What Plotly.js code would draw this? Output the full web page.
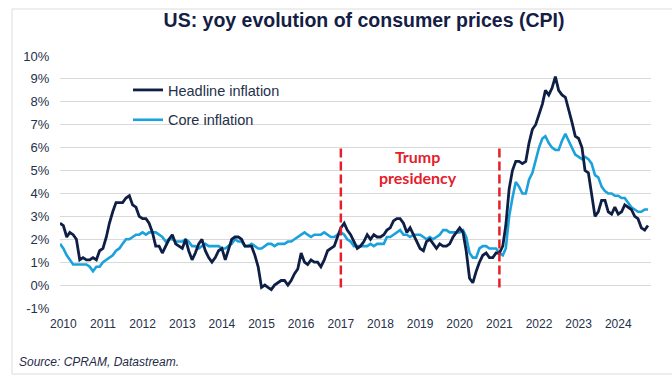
<!DOCTYPE html>
<html>
<head>
<meta charset="utf-8">
<script src="https://cdn.plot.ly/plotly-3.0.1.min.js"></script>
<style>
  html, body { margin: 0; padding: 0; background: #ffffff; }
  #chart { width: 672px; height: 385px; }
</style>
</head>
<body>
<div id="chart"></div>
<script>
// ---- Data (monthly, Dec 2009 .. Oct 2024), yoy % ----
const firstMonth = { year: 2009, month: 12 };

const headline = [
  2.7,
  2.6, 2.1, 2.3, 2.2, 2.0, 1.1, 1.2, 1.1, 1.1, 1.2, 1.1, 1.5,
  1.6, 2.1, 2.7, 3.2, 3.6, 3.6, 3.6, 3.8, 3.9, 3.5, 3.4, 3.0,
  2.9, 2.9, 2.7, 2.3, 1.7, 1.7, 1.4, 1.7, 2.0, 2.2, 1.8, 1.7,
  1.6, 2.0, 1.5, 1.1, 1.4, 1.8, 2.0, 1.5, 1.2, 1.0, 1.2, 1.5,
  1.6, 1.1, 1.5, 2.0, 2.1, 2.1, 2.0, 1.7, 1.7, 1.7, 1.3, 0.8,
  -0.1, 0.0, -0.1, -0.2, 0.0, 0.1, 0.2, 0.2, 0.0, 0.2, 0.5, 0.7,
  1.4, 1.0, 0.9, 1.1, 1.0, 1.0, 0.8, 1.1, 1.5, 1.6, 1.7, 2.1,
  2.5, 2.7, 2.4, 2.2, 1.9, 1.6, 1.7, 1.9, 2.2, 2.0, 2.2, 2.1,
  2.1, 2.2, 2.4, 2.5, 2.8, 2.9, 2.9, 2.7, 2.3, 2.5, 2.2, 1.9,
  1.6, 1.5, 1.9, 2.0, 1.8, 1.6, 1.8, 1.7, 1.7, 1.8, 2.1, 2.3,
  2.5, 2.3, 1.5, 0.3, 0.1, 0.6, 1.0, 1.3, 1.4, 1.2, 1.2, 1.4,
  1.4, 1.7, 2.6, 4.2, 5.0, 5.4, 5.4, 5.3, 5.4, 6.2, 6.8, 7.0,
  7.5, 7.9, 8.5, 8.3, 8.6, 9.1, 8.5, 8.3, 8.2, 7.7, 7.1, 6.5,
  6.4, 6.0, 5.0, 4.9, 4.0, 3.0, 3.2, 3.7, 3.7, 3.2, 3.1, 3.4,
  3.1, 3.2, 3.5, 3.4, 3.3, 3.0, 2.9, 2.5, 2.4, 2.6
];

const core = [
  1.8,
  1.6, 1.3, 1.1, 0.9, 0.9, 0.9, 0.9, 0.9, 0.8, 0.6, 0.8, 0.8,
  1.0, 1.1, 1.2, 1.3, 1.5, 1.6, 1.8, 2.0, 2.0, 2.1, 2.2, 2.2,
  2.3, 2.2, 2.3, 2.3, 2.3, 2.2, 2.1, 1.9, 2.0, 2.0, 1.9, 1.9,
  1.9, 2.0, 1.9, 1.7, 1.7, 1.6, 1.7, 1.8, 1.7, 1.7, 1.7, 1.7,
  1.6, 1.6, 1.7, 1.8, 2.0, 1.9, 1.9, 1.7, 1.7, 1.8, 1.7, 1.6,
  1.6, 1.7, 1.8, 1.8, 1.7, 1.8, 1.8, 1.8, 1.9, 1.9, 2.0, 2.1,
  2.2, 2.3, 2.2, 2.1, 2.2, 2.2, 2.2, 2.3, 2.2, 2.1, 2.1, 2.2,
  2.3, 2.2, 2.0, 1.9, 1.7, 1.7, 1.7, 1.7, 1.7, 1.8, 1.7, 1.8,
  1.8, 1.8, 2.1, 2.1, 2.2, 2.3, 2.4, 2.2, 2.2, 2.1, 2.2, 2.2,
  2.2, 2.1, 2.0, 2.1, 2.0, 2.1, 2.2, 2.4, 2.4, 2.3, 2.3, 2.3,
  2.3, 2.4, 2.1, 1.4, 1.2, 1.2, 1.6, 1.7, 1.7, 1.6, 1.6, 1.6,
  1.4, 1.3, 1.6, 3.0, 3.8, 4.5, 4.3, 4.0, 4.0, 4.6, 4.9, 5.5,
  6.0, 6.4, 6.5, 6.2, 6.0, 5.9, 5.9, 6.3, 6.6, 6.3, 6.0, 5.7,
  5.6, 5.5, 5.6, 5.5, 5.3, 4.8, 4.7, 4.3, 4.1, 4.0, 4.0, 3.9,
  3.9, 3.8, 3.8, 3.6, 3.4, 3.3, 3.2, 3.2, 3.3, 3.3
];

const seriesNames = ['Headline inflation', 'Core inflation'];
const yTickVals = [-1, 0, 1, 2, 3, 4, 5, 6, 7, 8, 9, 10];
const yTickText = ['-1%', '0%', '1%', '2%', '3%', '4%', '5%', '6%', '7%', '8%', '9%', '10%'];
const presidencyStart = '2017-01-01';
const presidencyEnd = '2021-01-01';
const presidencyLabel = 'Trump<br>presidency';
const chartTitle = 'US: yoy evolution of consumer prices (CPI)';
const sourceText = 'Source: CPRAM, Datastream.';

// ---- month dates ----
const dates = headline.map((_, i) => {
  const m0 = firstMonth.month - 1 + i;
  const y = firstMonth.year + Math.floor(m0 / 12);
  const m = (m0 % 12) + 1;
  return y + '-' + String(m).padStart(2, '0') + '-01';
});

const FONT = 'Arial, "Liberation Sans", sans-serif';
const NAVY = '#0e1e45';
const LIGHT = '#1ba1dc';
const TXT = '#25304a';

// pixel -> paper helpers (plot area: x 60..651, y 56..308)
const PL = 60, PR = 651, PT = 56, PB = 308;
const px = v => (v - PL) / (PR - PL);
const py = v => (PB - v) / (PB - PT);

const traces = [
  { x: dates, y: headline, type: 'scatter', mode: 'lines', name: seriesNames[0],
    legendgroup: 'a', legendrank: 1, line: { color: NAVY, width: 2.8 }, hoverinfo: 'x+y' },
  { x: dates, y: core, type: 'scatter', mode: 'lines', name: seriesNames[1],
    legendgroup: 'b', legendrank: 2, line: { color: LIGHT, width: 2.6 }, hoverinfo: 'x+y' }
];
// draw headline on top
const data = [traces[1], traces[0]];

const layout = {
  width: 672, height: 385,
  margin: { l: PL, r: 672 - PR, t: PT, b: 385 - PB, pad: 0 },
  paper_bgcolor: '#ffffff', plot_bgcolor: '#ffffff',
  font: { family: FONT, size: 12, color: TXT },
  title: {
    text: '<b>' + chartTitle + '</b>',
    font: { family: FONT, size: 19.5, color: '#132044' },
    x: 364 / 672, xref: 'container', xanchor: 'center',
    y: 1 - 20 / 385, yref: 'container', yanchor: 'middle'
  },
  xaxis: {
    type: 'date',
    range: ['2009-12-01', '2024-10-29'],
    tick0: '2010-01-01', dtick: 'M12', tickformat: '%Y',
    showgrid: false, zeroline: false, showline: false,
    ticks: 'outside', ticklen: 5, tickcolor: 'rgba(0,0,0,0)',
    tickfont: { family: FONT, size: 12, color: TXT },
    fixedrange: true
  },
  yaxis: {
    range: [-1, 10],
    tickvals: yTickVals, ticktext: yTickText,
    showgrid: true, gridcolor: '#d9d9d9', gridwidth: 1,
    zeroline: false, showline: false,
    ticks: 'outside', ticklen: 7, tickcolor: 'rgba(0,0,0,0)',
    tickfont: { family: FONT, size: 13, color: TXT },
    fixedrange: true
  },
  showlegend: true,
  legend: {
    x: px(128), xanchor: 'left',
    y: py(74), yanchor: 'top',
    bgcolor: 'rgba(0,0,0,0)', borderwidth: 0,
    font: { family: FONT, size: 14.5, color: TXT },
    traceorder: 'grouped', tracegroupgap: 8,
    itemclick: false, itemdoubleclick: false
  },
  shapes: [
    { type: 'rect', xref: 'paper', yref: 'paper',
      x0: px(12), x1: px(690), y0: py(374), y1: py(9),
      line: { color: '#dcdcdc', width: 1 }, fillcolor: 'rgba(0,0,0,0)', layer: 'below' },
    { type: 'line', xref: 'x', yref: 'y', x0: presidencyStart, x1: presidencyStart, y0: -0.1, y1: 6,
      line: { color: '#e4212b', width: 2.5, dash: '9px,4px' } },
    { type: 'line', xref: 'x', yref: 'y', x0: presidencyEnd, x1: presidencyEnd, y0: -0.1, y1: 6,
      line: { color: '#e4212b', width: 2.5, dash: '9px,4px' } }
  ],
  annotations: [
    { xref: 'paper', yref: 'paper', x: px(418), y: py(167), xanchor: 'center', yanchor: 'middle',
      text: '<b>' + presidencyLabel + '</b>', showarrow: false,
      font: { family: 'Lato, "Open Sans", sans-serif', size: 16, color: '#e4212b' } },
    { xref: 'paper', yref: 'paper', x: px(17), y: py(362), xanchor: 'left', yanchor: 'middle',
      text: '<i>' + sourceText + '</i>', showarrow: false,
      font: { family: FONT, size: 12, color: '#1f2b48' } }
  ]
};

Plotly.newPlot('chart', data, layout, { staticPlot: true, displayModeBar: false });
</script>
</body>
</html>
